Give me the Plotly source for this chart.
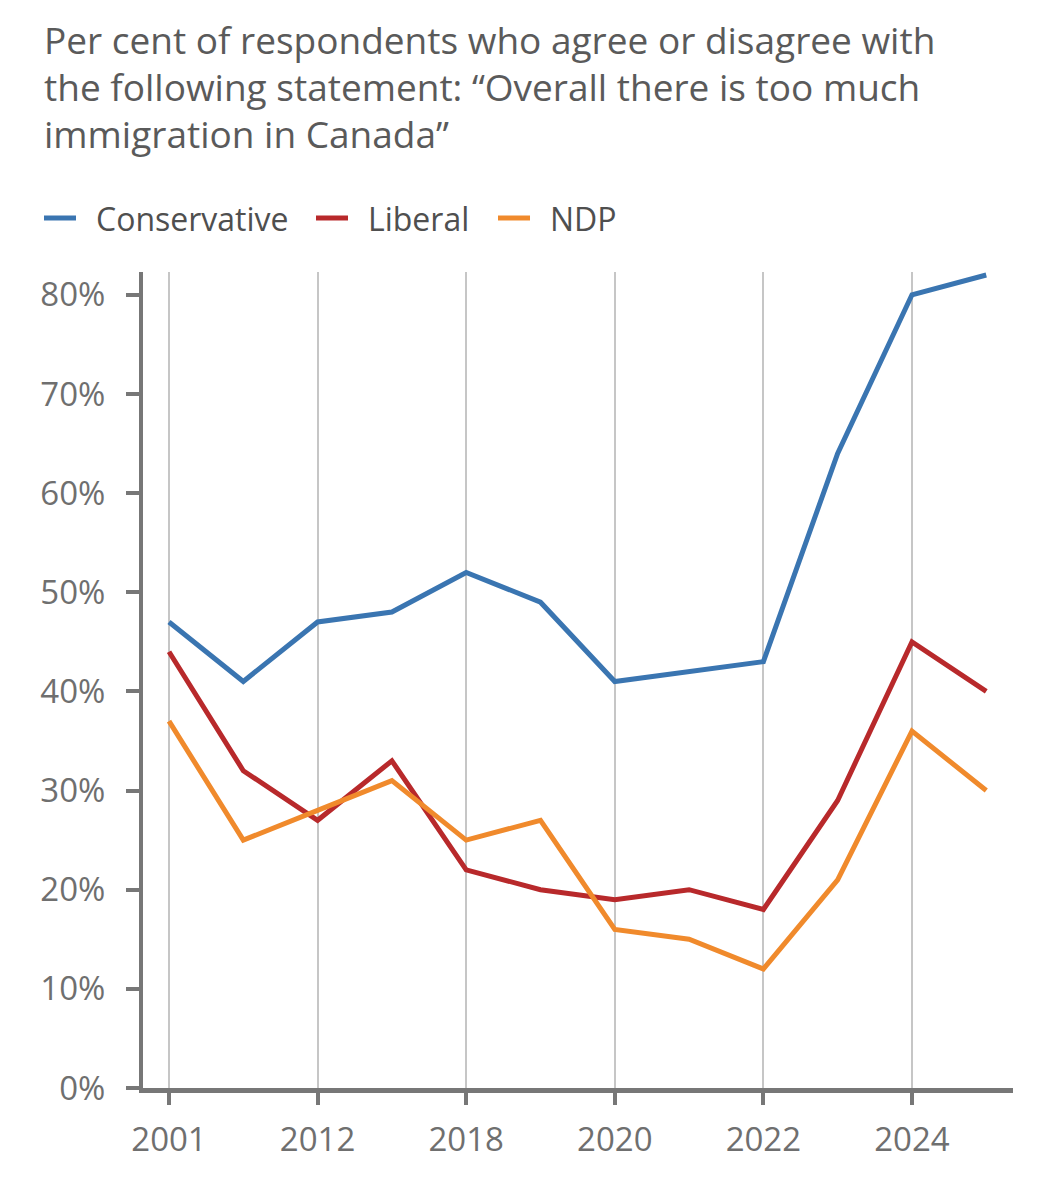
import plotly.graph_objects as go

# survey years (only every other one gets a label on the axis)
years = ["2001", "2010", "2012", "2015", "2018", "2019",
         "2020", "2021", "2022", "2023", "2024", "2025"]
shown_years = ["2001", "2012", "2018", "2020", "2022", "2024"]

conservative = [47, 41, 47, 48, 52, 49, 41, 42, 43, 64, 80, 82]
liberal = [44, 32, 27, 33, 22, 20, 19, 20, 18, 29, 45, 40]
ndp = [37, 25, 28, 31, 25, 27, 16, 15, 12, 21, 36, 30]

party_names = ["Conservative", "Liberal", "NDP"]
party_colors = ["#3a75b1", "#b8292b", "#f08a2c"]

title_lines = [
    "Per cent of respondents who agree or disagree with",
    "the following statement: \u201cOverall there is too much",
    "immigration in Canada\u201d",
]

FONT = "Open Sans"
GREY = "#6f6f6f"

# the page body adds 8px around the figure, so work in shifted pixels
OFF = 8
W, H = 1057 - OFF, 1200 - OFF
L, R, T, B = 143 - OFF, 44, 272 - OFF, 112
PW, PH = W - L - R, H - T - B


def px(x):
    return (x - OFF - L) / PW


def py(y):
    return (H - B - (y - OFF)) / PH


fig = go.Figure()
for name, vals, col in zip(party_names, [conservative, liberal, ndp], party_colors):
    fig.add_trace(go.Scatter(
        x=years, y=vals, name=name, mode="lines",
        line=dict(color=col, width=5), showlegend=False,
    ))

# title, one annotation per line
for i, txt in enumerate(title_lines):
    fig.add_annotation(
        text=txt, xref="paper", yref="paper",
        x=px(42), y=py(40 + 47 * i),
        xanchor="left", yanchor="middle", showarrow=False,
        font=dict(family=FONT, size=37, color="#5a5a5a"),
    )

# legend drawn by hand so the spacing matches
legend_x = [44, 316, 498]
for name, col, x0 in zip(party_names, party_colors, legend_x):
    fig.add_shape(
        type="line", xref="paper", yref="paper",
        x0=px(x0), x1=px(x0 + 32), y0=py(218), y1=py(218),
        line=dict(color=col, width=5),
    )
    fig.add_annotation(
        text=name, xref="paper", yref="paper",
        x=px(x0 + 50), y=py(218),
        xanchor="left", yanchor="middle", showarrow=False,
        font=dict(family=FONT, size=32, color="#4f4f4f"),
    )

fig.update_layout(
    width=W, height=H,
    margin=dict(l=L, r=R, t=T, b=B),
    plot_bgcolor="white", paper_bgcolor="white",
    font=dict(family=FONT, color=GREY),
    showlegend=False,
)

fig.update_xaxes(
    type="category",
    range=[-0.35, 11.36],
    tickvals=shown_years, ticktext=shown_years,
    showgrid=True, gridcolor="#c6c6c6", gridwidth=2,
    showline=True, linecolor="#777777", linewidth=5,
    ticks="outside", ticklen=12, tickwidth=4, tickcolor="#777777",
    tickfont=dict(family=FONT, size=33, color=GREY),
    ticklabelstandoff=6,
    zeroline=False, fixedrange=True,
)

fig.update_yaxes(
    range=[0, 82.3], dtick=10, ticksuffix="%",
    showgrid=False, zeroline=False,
    showline=True, linecolor="#777777", linewidth=4,
    ticks="outside", ticklen=13, tickwidth=4, tickcolor="#777777",
    tickfont=dict(family=FONT, size=33, color=GREY),
    ticklabelstandoff=14,
    fixedrange=True,
)

fig.write_html("out.html")
